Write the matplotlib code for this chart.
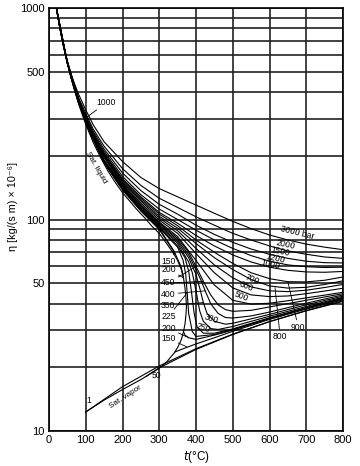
import matplotlib
matplotlib.use('Agg')
import matplotlib.pyplot as plt
from matplotlib.ticker import FixedLocator, NullFormatter

plt.rcParams['font.family'] = ['Liberation Sans', 'DejaVu Sans']

# saturation lines (t in degC, eta in 1e-6 kg/(s m))
T_SAT_LIQ = [10, 20, 30, 40, 50, 60, 70, 80, 90, 100, 120, 140, 160, 180, 200, 220, 240,
             260, 280, 300, 320, 340, 350, 360, 366, 370, 373, 374]
ETA_SAT_LIQ = [1306, 1002, 797, 653, 547, 466, 404, 354, 315, 282, 232, 197, 170, 150, 134,
               122, 111, 102, 93, 86, 77, 68.6, 64, 58, 53, 47.5, 42, 39]
T_SAT_VAP = [100, 150, 200, 250, 300, 320, 340, 350, 360, 366, 370, 373, 374]
ETA_SAT_VAP = [12.3, 14.0, 15.7, 17.5, 19.8, 21.2, 23.3, 24.8, 27, 29.5, 32, 36, 39]

# high pressure isobars, common temperature grid
T_HI = [10, 20, 30, 40, 50, 60, 70, 80, 100, 120, 150, 200, 250, 300, 350, 400, 450,
        500, 550, 600, 650, 700, 750, 800]
ETA_3000 = [1306, 1002, 805, 666, 563, 489, 436, 393, 330, 281, 233, 188, 158, 140, 128,
            117, 107, 98, 90.5, 84.5, 80, 76.5, 74, 72]
ETA_2000 = [1306, 1002, 803, 662, 559, 482, 425, 378, 318, 268, 222, 174, 145, 126, 114,
            103, 94, 86, 80, 75, 71, 68.5, 66.5, 65.5]
ETA_1500 = [1306, 1002, 802, 660, 557, 479, 420, 372, 310, 262, 215, 166, 137, 118, 106,
            94, 85, 78, 72.5, 68.5, 65.5, 63.5, 62.5, 62.3]
ETA_1200 = [1306, 1002, 801, 659, 555, 476, 416, 367, 305, 257, 210, 160, 131, 112, 100,
            89, 80, 73, 67.5, 63.5, 61, 59.8, 59.3, 59.5]
ETA_1000 = [1306, 1002, 800, 658, 554, 475, 414, 364, 302, 254, 206, 156, 128, 108, 96,
            84, 75, 68, 63, 59.5, 57.5, 56.5, 56.3, 56.8]
ETA_900 = [1306, 1002, 800, 657, 553, 474, 413, 363, 300, 252, 204, 154, 126, 106, 93.5,
           80, 70, 62, 56, 52.5, 50.8, 50.7, 51.6, 53.5]
ETA_800 = [1306, 1002, 800, 657, 552, 473, 412, 362, 298, 250, 202, 152, 124, 103.5, 91,
           77, 66, 58, 52, 48.5, 47.4, 47.8, 49.3, 51.3]
ETA_700 = [1306, 1002, 799, 656, 552, 472, 411, 361, 296, 248, 200, 150, 122, 101.5, 88.5,
           73, 61, 53, 48, 46, 45.6, 46.3, 47.7, 49.3]
ETA_600 = [1306, 1002, 799, 656, 551, 471, 410, 359, 294, 246, 198, 148, 119.5, 99.4, 86,
           69, 56, 47.5, 44, 43.2, 43.5, 44.6, 45.9, 47.3]
ETA_500 = [1306, 1002, 798, 655, 551, 470, 409, 358, 292.5, 244, 196, 146, 117.5, 97.4, 83,
           64, 49, 41.5, 39.8, 40.2, 41.3, 42.6, 43.9, 45.3]

# isobars crossing the pseudo-critical region
T_450 = [10, 20, 50, 100, 150, 200, 250, 300, 350, 380, 400, 420, 440, 460, 480, 500, 550,
         600, 700, 800]
ETA_450 = [1306, 1002, 550, 291.5, 191, 145, 116.4, 96.3, 81.5, 70, 60, 51, 44, 39.5, 37.5,
           36.8, 37.2, 38.6, 41.5, 44.6]
T_400 = [10, 20, 50, 100, 150, 200, 250, 300, 350, 380, 400, 415, 425, 440, 460, 480, 500,
         550, 600, 700, 800]
ETA_400 = [1306, 1002, 550, 290.7, 190, 143.6, 115.3, 95.3, 80, 68, 58, 51, 46, 40, 36,
           34.4, 34.2, 35, 36.5, 40.2, 44]
T_350 = [10, 20, 50, 100, 150, 200, 250, 300, 350, 380, 400, 410, 420, 430, 450, 480, 500,
         600, 700, 800]
ETA_350 = [1306, 1002, 550, 289, 189, 142.3, 114, 94, 78.5, 66, 55, 47.5, 40.5, 36, 33,
           32, 32.3, 35.6, 39.5, 43.4]
T_300 = [10, 20, 50, 100, 150, 200, 250, 300, 350, 380, 390, 400, 410, 420, 440, 460, 500,
         600, 700, 800]
ETA_300 = [1306, 1002, 549, 288.5, 188, 141, 113, 93, 77, 63, 56, 46, 37, 33, 30.5, 30.2,
           31.2, 34.9, 38.8, 42.9]
T_250 = [10, 20, 50, 100, 150, 200, 250, 300, 350, 370, 380, 388, 395, 403, 420, 450, 500,
         600, 700, 800]
ETA_250 = [1306, 1002, 549, 287, 187, 140, 111.7, 91.7, 75, 66, 57, 45, 36, 31, 29, 29,
           30.4, 34.3, 38.3, 42.5]
T_225 = [10, 20, 50, 100, 150, 200, 250, 300, 350, 365, 372, 376, 380, 390, 400, 450, 500,
         600, 700, 800]
ETA_225 = [1306, 1002, 549, 287, 186.5, 139.4, 111.2, 91.2, 74, 64, 55, 45, 36, 29.5, 28,
           28.6, 30.2, 34.1, 38.2, 42.3]

# subcritical isobars: liquid branch and vapour branch
T_LIQ_200 = [10, 20, 50, 100, 150, 200, 250, 300, 340, 360, 366]
ETA_LIQ_200 = [1306, 1002, 548.6, 286, 186, 138.8, 110.7, 90.6, 71, 59.5, 53]
T_VAP_200 = [366, 370, 380, 400, 450, 500, 600, 700, 800]
ETA_VAP_200 = [29.5, 28.4, 27.6, 27.1, 28.4, 30, 34, 38.1, 42.1]
T_LIQ_150 = [10, 20, 50, 100, 150, 200, 250, 300, 320, 342]
ETA_LIQ_150 = [1306, 1002, 548, 285.4, 185.3, 137.8, 109.6, 89.6, 79.5, 69.5]
T_VAP_150 = [342, 360, 400, 450, 500, 600, 700, 800]
ETA_VAP_150 = [23.6, 24.3, 25.8, 27.6, 29.6, 33.7, 37.7, 41.7]
T_VAP_50 = [264, 300, 400, 500, 600, 700, 800]
ETA_VAP_50 = [18.1, 19.9, 24.3, 28.6, 32.9, 37.1, 41.3]
T_VAP_1 = [100, 200, 300, 400, 500, 600, 700, 800]
ETA_VAP_1 = [12.3, 16.2, 20.3, 24.5, 28.7, 32.9, 37.0, 41.0]


fig = plt.figure(figsize=(3.6, 4.66), dpi=100)
ax = fig.add_axes([49 / 360, 1 - 431 / 466, 294 / 360, 423 / 466])
ax.set_yscale('log')
ax.set_xlim(0, 800)
ax.set_ylim(10, 1000)

# grid
ax.xaxis.set_major_locator(FixedLocator(range(0, 801, 100)))
ax.yaxis.set_major_locator(FixedLocator([10, 50, 100, 500, 1000]))
ax.yaxis.set_minor_locator(FixedLocator([20, 30, 40, 60, 70, 80, 90,
                                         200, 300, 400, 600, 700, 800, 900]))
ax.yaxis.set_minor_formatter(NullFormatter())
ax.set_yticklabels(['10', '50', '100', '500', '1000'])
ax.grid(True, which='both', color='#222222', lw=1.2)
ax.tick_params(which='both', length=0, labelsize=8, pad=3)
for sp in ax.spines.values():
    sp.set_linewidth(1.2)

lw = 0.8
curves = [
    (T_SAT_LIQ, ETA_SAT_LIQ), (T_SAT_VAP, ETA_SAT_VAP),
    (T_HI, ETA_3000), (T_HI, ETA_2000), (T_HI, ETA_1500), (T_HI, ETA_1200),
    (T_HI, ETA_1000), (T_HI, ETA_900), (T_HI, ETA_800), (T_HI, ETA_700),
    (T_HI, ETA_600), (T_HI, ETA_500),
    (T_450, ETA_450), (T_400, ETA_400), (T_350, ETA_350), (T_300, ETA_300),
    (T_250, ETA_250), (T_225, ETA_225),
    (T_LIQ_200, ETA_LIQ_200), (T_VAP_200, ETA_VAP_200),
    (T_LIQ_150, ETA_LIQ_150), (T_VAP_150, ETA_VAP_150),
    (T_VAP_50, ETA_VAP_50), (T_VAP_1, ETA_VAP_1),
]
for t, eta in curves:
    ax.plot(t, eta, color='black', lw=lw, solid_joinstyle='round')

fs = 6.2
arrow = dict(arrowstyle='-', lw=0.6, color='black', shrinkA=0, shrinkB=0)

# labels on the right hand isobars
ax.text(675, 78.5, '3000 bar', fontsize=fs, rotation=-14, ha='center', va='bottom')
ax.text(645, 71, '2000', fontsize=fs, rotation=-12, ha='center', va='bottom')
ax.text(630, 65.5, '1500', fontsize=fs, rotation=-12, ha='center', va='bottom')
ax.text(617, 61, '1200', fontsize=fs, rotation=-12, ha='center', va='bottom')
ax.text(603, 57, '1000', fontsize=fs, rotation=-12, ha='center', va='bottom')
ax.text(552, 48.5, '700', fontsize=fs, rotation=-22, ha='center', va='bottom')
ax.text(538, 45, '600', fontsize=fs, rotation=-22, ha='center', va='bottom')
ax.text(522, 40, '500', fontsize=fs, rotation=-22, ha='center', va='bottom')
ax.text(442, 31.5, '300', fontsize=fs, rotation=-18, ha='center', va='bottom')
ax.text(420, 28.7, '250', fontsize=fs, rotation=-18, ha='center', va='bottom')

ax.annotate('900', xy=(T_HI[20], ETA_900[20]), xytext=(678, 31), fontsize=fs,
            ha='center', va='center', arrowprops=arrow)
ax.annotate('800', xy=(T_HI[19] + 15, 47.6), xytext=(629, 28), fontsize=fs,
            ha='center', va='center', arrowprops=arrow)
ax.annotate('1000', xy=(T_HI[8], ETA_1000[8]), xytext=(130, 357), fontsize=fs,
            ha='left', va='center', arrowprops=arrow)

# labels on the left of the critical region
ax.annotate('150', xy=(T_LIQ_150[-1], ETA_LIQ_150[-1]), xytext=(305, 63),
            fontsize=fs, ha='left', va='center', arrowprops=arrow)
ax.annotate('200', xy=(T_LIQ_200[-1], ETA_LIQ_200[-1]), xytext=(305, 58),
            fontsize=fs, ha='left', va='center', arrowprops=arrow)
ax.annotate('450', xy=(T_450[10], ETA_450[10]), xytext=(305, 50.1),
            fontsize=fs, ha='left', va='center', arrowprops=arrow)
ax.annotate('', xy=(T_450[11], ETA_450[11]), xytext=(330, 50.1), arrowprops=arrow)
ax.annotate('400', xy=(T_400[12], ETA_400[12]), xytext=(305, 44.4),
            fontsize=fs, ha='left', va='center', arrowprops=arrow)
ax.annotate('350', xy=(T_350[12], ETA_350[12]), xytext=(305, 39.1),
            fontsize=fs, ha='left', va='center', arrowprops=arrow)
ax.annotate('225', xy=(T_225[11], ETA_225[11]), xytext=(305, 34.8),
            fontsize=fs, ha='left', va='center', arrowprops=arrow)
ax.annotate('200', xy=(T_VAP_200[2], ETA_VAP_200[2]), xytext=(305, 30.6),
            fontsize=fs, ha='left', va='center', arrowprops=arrow)
ax.annotate('150', xy=(T_VAP_150[1] + 15, 25.0), xytext=(305, 27.4),
            fontsize=fs, ha='left', va='center', arrowprops=arrow)

# saturation and low pressure labels
ax.text(127, 176, 'Sat. liquid', fontsize=5.8, rotation=-60, ha='center', va='center')
ax.text(208, 14.5, 'Sat. vapor', fontsize=5.8, rotation=33, ha='center', va='center')
ax.text(108, 13.2, '1', fontsize=fs, ha='center', va='bottom')
ax.text(292, 18.3, '50', fontsize=fs, ha='center', va='center')

ax.set_xlabel(r'$t$(°C)', fontsize=8.5, labelpad=3)
ax.set_ylabel('η [kg/(s m) × 10⁻⁶]', fontsize=7.8)
ax.yaxis.set_label_coords(-0.105, 0.53)

fig.savefig('out.png', dpi=100)
